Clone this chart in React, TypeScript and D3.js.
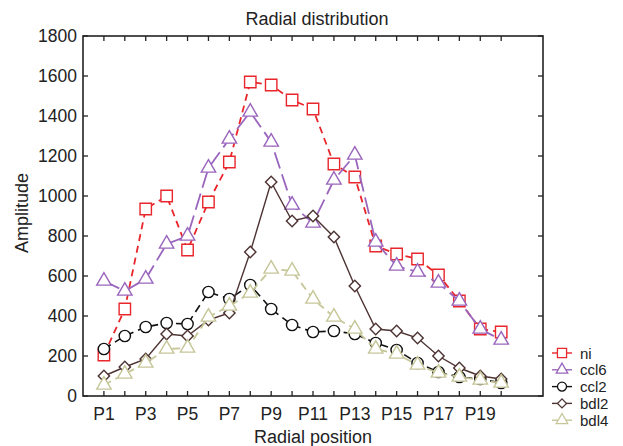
import React from "react";
import * as d3 from "d3";

// radial positions P1..P20
const positions = d3.range(1, 21).map((i) => `P${i}`);
const yTicks = [0, 200, 400, 600, 800, 1000, 1200, 1400, 1600, 1800];

const ni = [205, 435, 935, 1000, 730, 970, 1170, 1570, 1555, 1480, 1435, 1160, 1095, 750, 710, 685, 605, 475, 335, 320];
const ccl6 = [575, 525, 585, 760, 800, 1140, 1285, 1420, 1270, 955, 865, 1080, 1205, 770, 650, 620, 565, 475, 335, 280];
const ccl2 = [235, 300, 345, 365, 360, 520, 485, 555, 435, 355, 320, 325, 310, 265, 230, 165, 120, 95, 85, 65];
const bdl2 = [100, 145, 185, 310, 300, 380, 415, 720, 1070, 875, 900, 795, 550, 335, 325, 290, 200, 140, 100, 85];
const bdl4 = [55, 110, 165, 235, 240, 395, 450, 515, 635, 625, 485, 395, 335, 235, 210, 155, 115, 95, 80, 65];

const W = 623;
const H = 446;
const left = 83, right = 543, top = 36, bottom = 396;
const font = "'Liberation Sans', Arial, sans-serif";

type Series = { name: string; values: number[]; color: string; dash: string; width: number; shape: string };

const series: Series[] = [
  { name: "ni", values: ni, color: "#e8262b", dash: "7,5", width: 1.8, shape: "square" },
  { name: "ccl6", values: ccl6, color: "#9a66bd", dash: "17,6", width: 1.8, shape: "triangle" },
  { name: "ccl2", values: ccl2, color: "#111111", dash: "8,5", width: 1.6, shape: "circle" },
  { name: "bdl2", values: bdl2, color: "#4e3333", dash: "", width: 1.4, shape: "diamond" },
  { name: "bdl4", values: bdl4, color: "#c6c699", dash: "8,5", width: 1.8, shape: "triangle" },
];

const marker = (shape: string) => {
  if (shape === "square") return d3.symbol(d3.symbolSquare, 130)();
  if (shape === "triangle") return d3.symbol(d3.symbolTriangle, 90)();
  if (shape === "circle") return d3.symbol(d3.symbolCircle, 100)();
  return d3.symbol(d3.symbolSquare, 64)();
};

const App = () => {
  const x = d3.scaleLinear().domain([0, 22]).range([left, right]);
  const y = d3.scaleLinear().domain([0, 1800]).range([bottom, top]);

  const line = d3.line<number>()
    .x((d, i) => x(i + 1))
    .y((d) => y(d));

  return (
    <svg width={W} height={H} style={{ position: "absolute", left: 0, top: 0, background: "#fff" }} fontFamily={font}>
      <text x={(left + right) / 2 + 4} y={25} textAnchor="middle" fontSize={18} fill="#222">Radial distribution</text>

      {/* frame */}
      <rect x={left} y={top} width={right - left} height={bottom - top} fill="none" stroke="#222" strokeWidth={1.6} />

      {/* y ticks */}
      {yTicks.map((t) => (
        <g key={t}>
          <line x1={left} x2={left + 5} y1={y(t)} y2={y(t)} stroke="#222" strokeWidth={1.3} />
          <line x1={right} x2={right - 5} y1={y(t)} y2={y(t)} stroke="#222" strokeWidth={1.3} />
          <text x={left - 6} y={y(t) + 6} textAnchor="end" fontSize={17.5} fill="#222">{t}</text>
        </g>
      ))}

      {/* x ticks */}
      {positions.map((p, i) => (
        <g key={p}>
          <line x1={x(i + 1)} x2={x(i + 1)} y1={bottom} y2={bottom - 5} stroke="#222" strokeWidth={1.3} />
          <line x1={x(i + 1)} x2={x(i + 1)} y1={top} y2={top + 5} stroke="#222" strokeWidth={1.3} />
          {i % 2 === 0 && (
            <text x={x(i + 1)} y={bottom + 24} textAnchor="middle" fontSize={17.5} fill="#222">{p}</text>
          )}
        </g>
      ))}

      <text x={(left + right) / 2} y={443} textAnchor="middle" fontSize={18} fill="#222">Radial position</text>
      <text transform={`translate(28,213) rotate(-90)`} textAnchor="middle" fontSize={18} fill="#222">Amplitude</text>

      {/* series */}
      {series.map((s) => (
        <g key={s.name}>
          <path d={line(s.values) || ""} fill="none" stroke={s.color} strokeWidth={s.width} strokeDasharray={s.dash || undefined} />
          {s.values.map((v, i) => (
            <path key={i} d={marker(s.shape) || ""}
              transform={`translate(${x(i + 1)},${y(v)})${s.shape === "diamond" ? " rotate(45)" : ""}`}
              fill="#fff" stroke={s.color} strokeWidth={1.4} />
          ))}
        </g>
      ))}

      {/* legend */}
      {series.map((s, i) => {
        const ly = 353 + i * 16.8;
        return (
          <g key={s.name}>
            <line x1={552} x2={572} y1={ly} y2={ly} stroke={s.color} strokeWidth={1.4} />
            <path d={marker(s.shape) || ""}
              transform={`translate(562,${ly}) scale(0.8)${s.shape === "diamond" ? " rotate(45)" : ""}`}
              fill="#fff" stroke={s.color} strokeWidth={1.6} />
            <text x={580} y={ly + 5.5} fontSize={15} fill="#222">{s.name}</text>
          </g>
        );
      })}
    </svg>
  );
};

export default App;
